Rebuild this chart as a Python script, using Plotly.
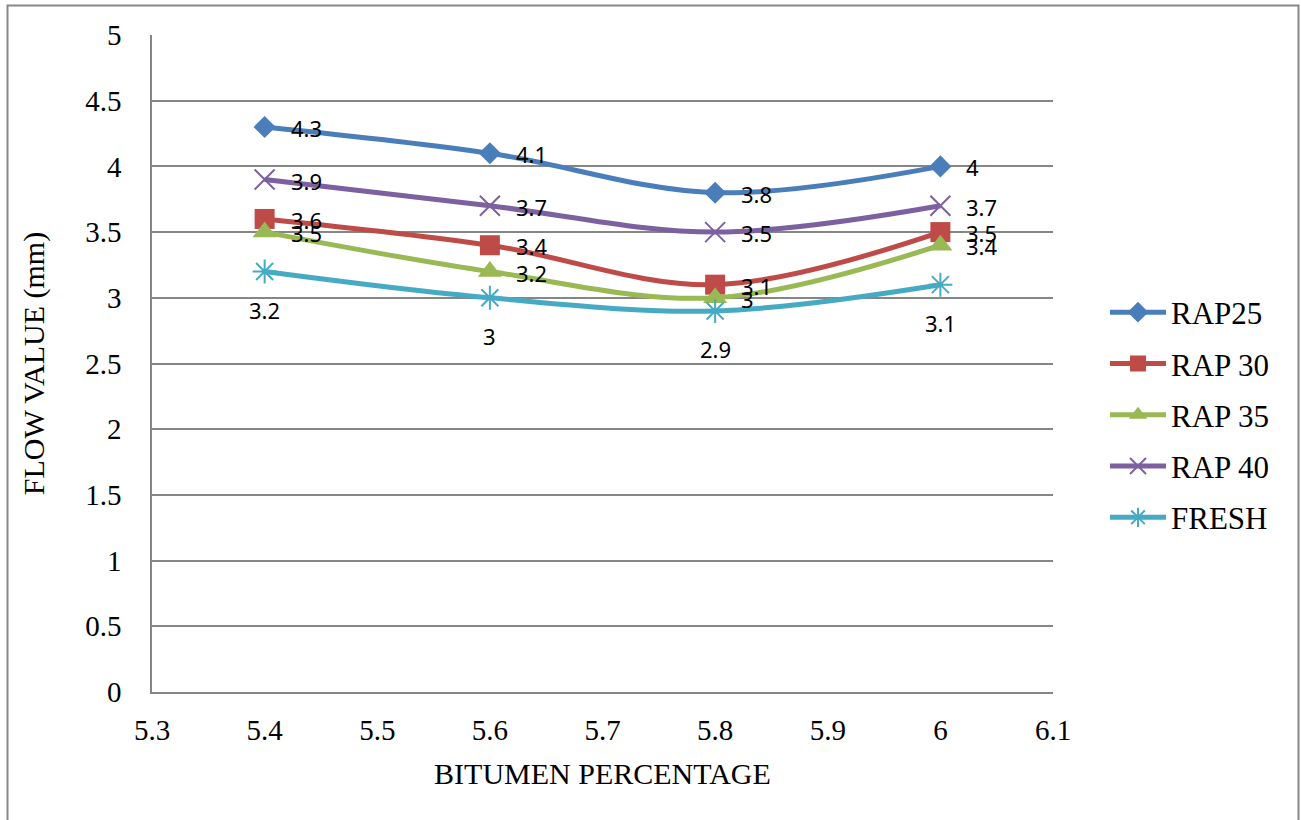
import plotly.graph_objects as go

bitumen = [5.4, 5.6, 5.8, 6.0]
rap25 = [4.3, 4.1, 3.8, 4.0]
rap30 = [3.6, 3.4, 3.1, 3.5]
rap35 = [3.5, 3.2, 3.0, 3.4]
rap40 = [3.9, 3.7, 3.5, 3.7]
fresh = [3.2, 3.0, 2.9, 3.1]

series_names = ["RAP25", "RAP 30", "RAP 35", "RAP 40", "FRESH"]
series_values = [rap25, rap30, rap35, rap40, fresh]

x_tickvals = [5.3, 5.4, 5.5, 5.6, 5.7, 5.8, 5.9, 6.0, 6.1]
x_ticktext = ["5.3", "5.4", "5.5", "5.6", "5.7", "5.8", "5.9", "6", "6.1"]
y_tickvals = [0, 0.5, 1, 1.5, 2, 2.5, 3, 3.5, 4, 4.5, 5]
y_ticktext = ["0", "0.5", "1", "1.5", "2", "2.5", "3", "3.5", "4", "4.5", "5"]

colors = ["#4A7EBB", "#BE4B48", "#98B954", "#7D60A0", "#46AAC5"]
symbols = ["diamond", "square", "triangle-up", "x-thin-open", "asterisk-open"]
msizes = [17, 20, 21, 20, 20]

SERIF = "Liberation Serif"
SANS = "Noto Sans"

fig = go.Figure()
annotations = []
for i, (name, vals) in enumerate(zip(series_names, series_values)):
    open_sym = symbols[i].endswith("open")
    fig.add_trace(go.Scatter(
        x=bitumen, y=vals, name=name, mode="lines+markers",
        line=dict(color=colors[i], width=5, shape="spline", smoothing=1.0),
        marker=dict(symbol=symbols[i], size=msizes[i], color=colors[i],
                    line=dict(color=colors[i], width=2 if open_sym else 0)),
        legendgroup=name,
    ))
    for xv, yv in zip(bitumen, vals):
        label = ("%g" % yv)
        if name == "FRESH":
            annotations.append(dict(x=xv, y=yv, text=label, showarrow=False,
                                    xanchor="center", yanchor="middle",
                                    yshift=-38, font=dict(family=SANS, size=22, color="black")))
        else:
            annotations.append(dict(x=xv, y=yv, text=label, showarrow=False,
                                    xanchor="left", yanchor="middle",
                                    xshift=24, yshift=-1, font=dict(family=SANS, size=22, color="black")))

L, R, T, B = 152, 248, 35, 128
W, H = 1301, 820
pw, ph = W - L - R, H - T - B

def px_x(p):
    return (p - L) / pw

def px_y(p):
    return (H - B - p) / ph

fig.update_layout(
    width=W, height=H,
    margin=dict(l=L, r=R, t=T, b=B, pad=0),
    paper_bgcolor="white", plot_bgcolor="white",
    font=dict(family=SERIF, size=29, color="black"),
    annotations=annotations,
    showlegend=True,
    legend=dict(x=px_x(1105), y=px_y(415), xanchor="left", yanchor="middle",
                font=dict(family=SERIF, size=31, color="black"),
                itemwidth=56, tracegroupgap=8, bgcolor="rgba(0,0,0,0)"),
    xaxis=dict(range=[5.3, 6.1], tickvals=x_tickvals, ticktext=x_ticktext,
               showgrid=False, zeroline=False, showline=True, linecolor="#868686",
               linewidth=1.5, ticks="", ticklabelstandoff=11,
               tickfont=dict(family=SERIF, size=29, color="black"),
               title=dict(text="BITUMEN PERCENTAGE", font=dict(family=SERIF, size=30), standoff=18)),
    yaxis=dict(range=[0, 5], tickvals=y_tickvals, ticktext=y_ticktext,
               showgrid=True, gridcolor="#868686", gridwidth=1.5,
               zeroline=False, showline=True, linecolor="#868686", linewidth=1.5,
               ticks="", ticklabelstandoff=23,
               tickfont=dict(family=SERIF, size=29, color="black"),
               title=dict(text="FLOW VALUE (mm)", font=dict(family=SERIF, size=30), standoff=32)),
    shapes=[dict(type="rect", xref="paper", yref="paper",
                 x0=px_x(7.5), x1=px_x(1298.5), y0=px_y(830), y1=px_y(5.5),
                 line=dict(color="#878787", width=2), fillcolor="rgba(0,0,0,0)", layer="below")],
)

fig.write_html("out.html", config={"displayModeBar": False},
               post_script="document.body.style.margin='0px';document.body.style.overflow='hidden';")
